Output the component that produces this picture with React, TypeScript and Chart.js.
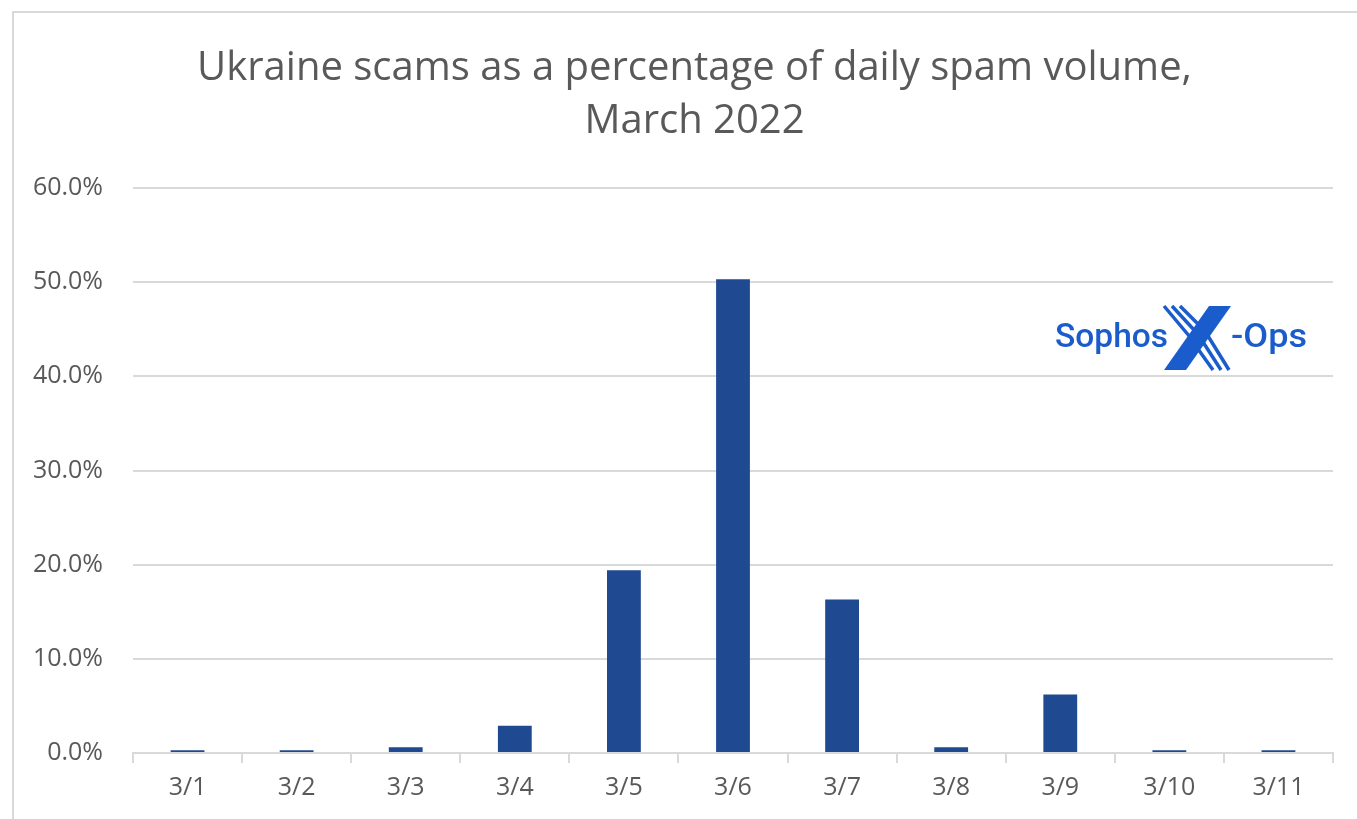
import React, { useEffect, useRef } from "react";
import { Chart, registerables } from "chart.js";

Chart.register(...registerables);

const categories: string[] = ["3/1", "3/2", "3/3", "3/4", "3/5", "3/6", "3/7", "3/8", "3/9", "3/10", "3/11"];
const scamShare: number[] = [0.3, 0.3, 0.6, 2.9, 19.4, 50.3, 16.3, 0.6, 6.2, 0.3, 0.3];
const titleLines: string[] = ["Ukraine scams as a percentage of daily spam volume,", "March 2022"];
const yMin = 0;
const yMax = 60;
const yStep = 10;

const TEXT = "#595959";
const GRID = "#d9d9d9";
const BAR = "#1f4991";
const LOGO = "#1a5ccc";

const titleShift = {
  id: "titleShift",
  afterLayout(chart: any) {
    const t = chart.titleBlock;
    if (t) {
      t.left += 36;
    }
  },
};

export default function App() {
  const ref = useRef<HTMLCanvasElement | null>(null);

  useEffect(() => {
    if (!ref.current) return;
    const chart = new Chart(ref.current, {
      type: "bar",
      data: {
        labels: categories,
        datasets: [
          {
            label: "Ukraine scams",
            data: scamShare,
            backgroundColor: BAR,
            borderWidth: 0,
            categoryPercentage: 1,
            barPercentage: 0.31,
          },
        ],
      },
      plugins: [titleShift],
      options: {
        animation: false,
        responsive: false,
        maintainAspectRatio: false,
        layout: { padding: { left: 20, right: 24, top: 0, bottom: 16 } },
        plugins: {
          legend: { display: false },
          tooltip: { enabled: false },
          title: {
            display: true,
            text: titleLines,
            color: TEXT,
            font: { family: "'Open Sans', sans-serif", size: 40, weight: "normal", lineHeight: 53 / 40 },
            padding: { top: 42, bottom: 40 },
          },
        },
        scales: {
          x: {
            afterFit: (s: any) => {
              s.height = 50;
            },
            grid: {
              offset: true,
              drawOnChartArea: false,
              drawTicks: true,
              tickLength: 10,
              color: GRID,
              lineWidth: 2,
            },
            border: { display: true, color: GRID, width: 2 },
            ticks: {
              color: TEXT,
              padding: 10,
              font: { family: "'Open Sans', sans-serif", size: 25 },
              maxRotation: 0,
            },
          },
          y: {
            min: yMin,
            max: yMax,
            afterFit: (s: any) => {
              s.width = 113;
            },
            grid: { color: GRID, lineWidth: 2, drawTicks: false, tickLength: 0 },
            border: { display: false },
            ticks: {
              stepSize: yStep,
              padding: 30,
              color: TEXT,
              font: { family: "'Open Sans', sans-serif", size: 25 },
              callback: (v: any) => Number(v).toFixed(1) + "%",
            },
          },
        },
      },
    });
    return () => chart.destroy();
  }, []);

  return (
    <div style={{ position: "fixed", left: 0, top: 0, width: 1357, height: 819, background: "#fff", overflow: "hidden" }}>
      <canvas ref={ref} width={1357} height={819} style={{ position: "absolute", left: 0, top: 0, width: 1357, height: 819 }} />
      <div
        style={{
          position: "absolute",
          left: 12,
          top: 11,
          width: 1400,
          height: 900,
          borderLeft: `2px solid ${GRID}`,
          borderTop: `2px solid ${GRID}`,
          pointerEvents: "none",
        }}
      />
      <svg
        width={1357}
        height={819}
        style={{ position: "absolute", left: 0, top: 0, pointerEvents: "none" }}
      >
        <text
          x={1055}
          y={347}
          fill={LOGO}
          fontFamily="Roboto, 'Open Sans', sans-serif"
          fontWeight={500}
          fontSize={33}
          textLength={113}
          lengthAdjust="spacingAndGlyphs"
        >
          Sophos
        </text>
        <polygon points="1209,306 1231,306 1186,370 1164,370" fill={LOGO} />
        <g stroke={LOGO} strokeWidth={3.5}>
          <line x1={1164} y1={306} x2={1190} y2={337} />
          <line x1={1172} y1={306} x2={1195} y2={331} />
          <line x1={1180} y1={306} x2={1199} y2={325} />
          <line x1={1198} y1={349} x2={1213} y2={370} />
          <line x1={1203} y1={342} x2={1221} y2={370} />
          <line x1={1208} y1={336} x2={1229} y2={370} />
        </g>
        <text
          x={1231}
          y={347}
          fill={LOGO}
          fontFamily="Roboto, 'Open Sans', sans-serif"
          fontWeight={500}
          fontSize={33}
          textLength={76}
          lengthAdjust="spacingAndGlyphs"
        >
          -Ops
        </text>
      </svg>
    </div>
  );
}
